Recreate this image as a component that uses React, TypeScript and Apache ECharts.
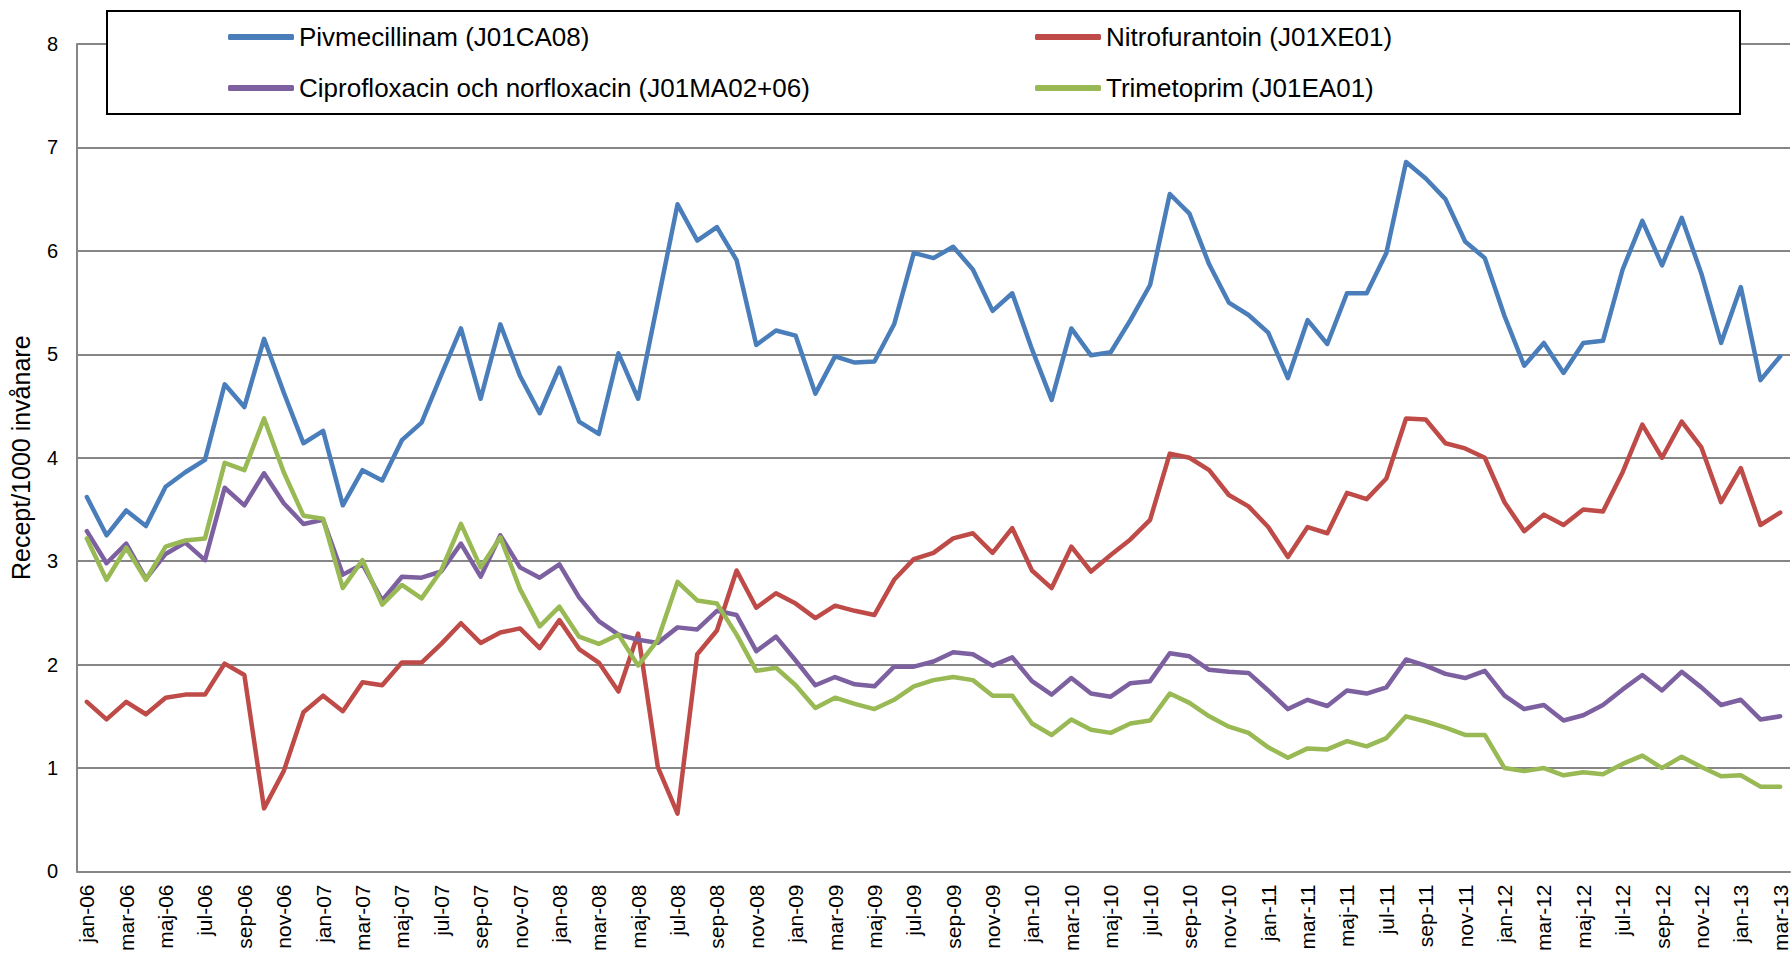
import React, { useEffect, useRef } from "react";
import * as echarts from "echarts";

const monthNames = ["jan", "feb", "mar", "apr", "maj", "jun", "jul", "aug", "sep", "okt", "nov", "dec"];
const years = ["06", "07", "08", "09", "10", "11", "12", "13"];
const categories: string[] = [];
years.forEach((y) => monthNames.forEach((m) => categories.push(`${m}-${y}`)));
categories.splice(87);

const seriesNames = [
  "Pivmecillinam (J01CA08)",
  "Nitrofurantoin (J01XE01)",
  "Ciprofloxacin och norfloxacin (J01MA02+06)",
  "Trimetoprim (J01EA01)",
];
const seriesColors = ["#4A7EBB", "#BE4B48", "#7D60A0", "#98B954"];

const pivmecillinam = [
  3.62, 3.25, 3.49, 3.34, 3.72, 3.86, 3.98, 4.71, 4.49, 5.15, 4.63, 4.14,
  4.26, 3.54, 3.88, 3.78, 4.17, 4.34, 4.80, 5.25, 4.57, 5.29, 4.79, 4.43,
  4.87, 4.35, 4.23, 5.01, 4.57, 5.51, 6.45, 6.10, 6.23, 5.91, 5.09, 5.23,
  5.18, 4.62, 4.98, 4.92, 4.93, 5.29, 5.98, 5.93, 6.04, 5.82, 5.42, 5.59,
  5.05, 4.56, 5.25, 4.99, 5.02, 5.33, 5.67, 6.55, 6.36, 5.87, 5.50, 5.38,
  5.21, 4.77, 5.33, 5.10, 5.59, 5.59, 5.98, 6.86, 6.70, 6.50, 6.09, 5.93,
  5.37, 4.89, 5.11, 4.82, 5.11, 5.13, 5.82, 6.29, 5.86, 6.32, 5.78, 5.11,
  5.65, 4.75, 4.98,
];
const nitrofurantoin = [
  1.64, 1.47, 1.64, 1.52, 1.68, 1.71, 1.71, 2.01, 1.90, 0.61, 0.97, 1.54,
  1.70, 1.55, 1.83, 1.80, 2.02, 2.02, 2.20, 2.40, 2.21, 2.31, 2.35, 2.16,
  2.43, 2.15, 2.02, 1.74, 2.30, 1.01, 0.56, 2.10, 2.33, 2.91, 2.55, 2.69,
  2.59, 2.45, 2.57, 2.52, 2.48, 2.82, 3.02, 3.08, 3.22, 3.27, 3.08, 3.32,
  2.91, 2.74, 3.14, 2.90, 3.06, 3.21, 3.40, 4.04, 4.00, 3.88, 3.64, 3.53,
  3.33, 3.04, 3.33, 3.27, 3.66, 3.60, 3.80, 4.38, 4.37, 4.14, 4.09, 4.00,
  3.57, 3.29, 3.45, 3.35, 3.50, 3.48, 3.86, 4.32, 4.00, 4.35, 4.10, 3.57,
  3.90, 3.35, 3.47,
];
const ciprofloxacin = [
  3.29, 2.98, 3.17, 2.83, 3.07, 3.18, 3.01, 3.71, 3.54, 3.85, 3.56, 3.36,
  3.40, 2.87, 2.97, 2.62, 2.85, 2.84, 2.90, 3.17, 2.85, 3.25, 2.94, 2.84,
  2.97, 2.65, 2.42, 2.29, 2.24, 2.21, 2.36, 2.34, 2.52, 2.48, 2.13, 2.27,
  2.04, 1.80, 1.88, 1.81, 1.79, 1.98, 1.98, 2.03, 2.12, 2.10, 1.99, 2.07,
  1.84, 1.71, 1.87, 1.72, 1.69, 1.82, 1.84, 2.11, 2.08, 1.95, 1.93, 1.92,
  1.75, 1.57, 1.66, 1.60, 1.75, 1.72, 1.78, 2.05, 1.99, 1.91, 1.87, 1.94,
  1.70, 1.57, 1.61, 1.46, 1.51, 1.61, 1.76, 1.90, 1.75, 1.93, 1.78, 1.61,
  1.66, 1.47, 1.50,
];
const trimetoprim = [
  3.22, 2.82, 3.13, 2.82, 3.14, 3.20, 3.22, 3.95, 3.88, 4.38, 3.86, 3.44,
  3.41, 2.74, 3.01, 2.58, 2.77, 2.64, 2.91, 3.36, 2.94, 3.23, 2.73, 2.37,
  2.56, 2.27, 2.20, 2.29, 1.99, 2.24, 2.80, 2.62, 2.59, 2.29, 1.94, 1.97,
  1.80, 1.58, 1.68, 1.62, 1.57, 1.66, 1.79, 1.85, 1.88, 1.85, 1.70, 1.70,
  1.43, 1.32, 1.47, 1.37, 1.34, 1.43, 1.46, 1.72, 1.63, 1.50, 1.40, 1.34,
  1.20, 1.10, 1.19, 1.18, 1.26, 1.21, 1.29, 1.50, 1.45, 1.39, 1.32, 1.32,
  1.00, 0.97, 1.00, 0.93, 0.96, 0.94, 1.04, 1.12, 1.00, 1.11, 1.01, 0.92,
  0.93, 0.82, 0.82,
];
const seriesValues = [pivmecillinam, nitrofurantoin, ciprofloxacin, trimetoprim];

const yAxisTitle = "Recept/1000 invånare";
const FONT = "'Liberation Sans', Arial, sans-serif";

export default function App() {
  const ref = useRef<HTMLDivElement>(null);
  useEffect(() => {
    if (!ref.current) return;
    const chart = echarts.init(ref.current, undefined, { renderer: "svg" });
    const legendPos = [
      { left: 228, top: 24 },
      { left: 1035, top: 24 },
      { left: 228, top: 75 },
      { left: 1035, top: 75 },
    ];
    chart.setOption({
      animation: false,
      backgroundColor: "#ffffff",
      textStyle: { fontFamily: FONT },
      grid: { left: 76, right: 2, top: 44, bottom: 80, show: false },
      legend: seriesNames.map((n, i) => ({
        data: [n],
        left: legendPos[i].left,
        top: legendPos[i].top,
        padding: 0,
        icon: "roundRect",
        itemWidth: 66,
        itemHeight: 6,
        selectedMode: false,
        textStyle: { fontFamily: FONT, fontSize: 26, color: "#000" },
        z: 10,
      })),
      graphic: [
        {
          type: "rect",
          left: 106,
          top: 10,
          z: 5,
          shape: { width: 1633, height: 103 },
          style: { fill: "#ffffff", stroke: "#000000", lineWidth: 2 },
        },
      ],
      xAxis: {
        type: "category",
        data: categories,
        boundaryGap: true,
        axisLine: { lineStyle: { color: "#868686", width: 2 } },
        axisTick: { show: false },
        axisLabel: {
          interval: 1,
          rotate: 90,
          margin: 13,
          fontSize: 21,
          color: "#000",
          fontFamily: FONT,
        },
      },
      yAxis: {
        type: "value",
        min: 0,
        max: 8,
        interval: 1,
        name: yAxisTitle,
        nameLocation: "middle",
        nameRotate: 90,
        nameGap: 44,
        nameTextStyle: { fontSize: 25, color: "#000", fontFamily: FONT },
        axisLine: { show: true, lineStyle: { color: "#868686", width: 2 } },
        axisTick: { show: false },
        axisLabel: { fontSize: 20, color: "#000", margin: 19, fontFamily: FONT },
        splitLine: { show: true, lineStyle: { color: "#868686", width: 2 } },
      },
      series: seriesNames.map((n, i) => ({
        name: n,
        type: "line",
        data: seriesValues[i],
        symbol: "none",
        color: seriesColors[i],
        lineStyle: { width: 4.5, color: seriesColors[i], cap: "round", join: "round" },
        z: 2 + i,
      })),
    });
    return () => chart.dispose();
  }, []);
  return (
    <div
      ref={ref}
      style={{ position: "fixed", left: 0, top: 0, width: 1792, height: 954 }}
    />
  );
}
